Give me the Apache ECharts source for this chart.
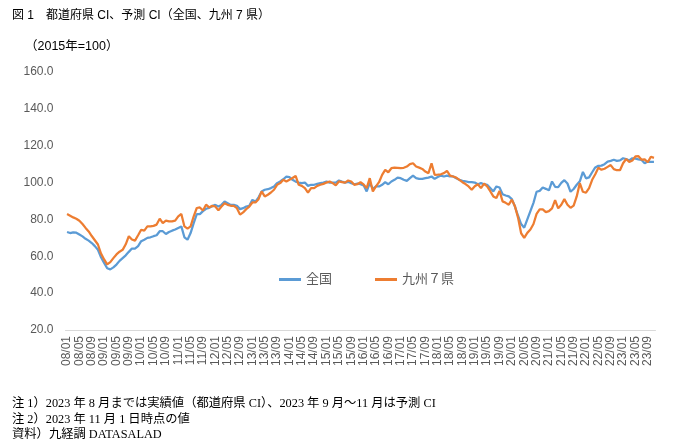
<!DOCTYPE html>
<html><head><meta charset="utf-8">
<script src="https://cdn.jsdelivr.net/npm/echarts@6/dist/echarts.min.js"></script>
<style>html,body{margin:0;padding:0;background:#fff}#c{width:680px;height:444px}</style>
</head><body><div id="c"></div>
<script>
// category labels: YY/MM from 2008/01 to 2023/11
var startYear = 2008, endYear = 2023, endMonth = 11;
var categories = [];
for (var y = startYear; y <= endYear; y++) {
  for (var m = 1; m <= 12; m++) {
    if (y === endYear && m > endMonth) break;
    categories.push(String(y % 100).padStart(2, '0') + '/' + String(m).padStart(2, '0'));
  }
}
var seriesNames = ['全国', '九州７県'];
// 全国
var zenkoku = [
  73.2, 72.6, 73.0, 72.8, 71.8, 70.8, 69.5, 68.5, 67.2, 65.5, 63.5, 59.5,
  56.4, 53.5, 52.9, 54.0, 55.5, 57.5, 59.0, 60.5, 62.4, 64.2, 64.2, 65.5,
  68.2, 69.0, 70.0, 70.3, 70.9, 71.4, 73.6, 73.6, 72.1, 73.2, 73.9, 74.5,
  75.4, 76.2, 70.3, 69.0, 72.6, 78.0, 82.9, 82.9, 84.5, 85.8, 86.3, 87.2,
  87.9, 87.0, 87.9, 89.7, 88.8, 87.9, 87.9, 87.4, 85.6, 86.1, 87.0, 87.4,
  90.6, 89.7, 92.0, 95.2, 96.1, 96.4, 97.0, 97.9, 99.7, 100.6, 101.8, 103.2,
  102.9, 101.5, 100.5, 100.0, 99.7, 100.0, 98.2, 98.8, 98.8, 99.3, 99.7, 100.0,
  100.6, 100.0, 100.0, 100.0, 101.1, 100.5, 100.0, 100.4, 99.7, 99.1, 99.5, 99.1,
  98.5, 95.2, 99.7, 96.6, 97.9, 97.9, 98.8, 100.2, 99.1, 100.6, 101.5, 102.7,
  102.4, 101.5, 100.9, 102.4, 103.8, 102.4, 102.0, 102.0, 102.4, 102.7, 103.3, 102.0,
  103.0, 103.8, 103.3, 103.8, 103.3, 103.3, 102.4, 101.5, 100.9, 100.7, 100.2, 100.2,
  100.0, 99.1, 99.7, 99.1, 98.8, 97.0, 95.2, 97.9, 97.3, 93.7, 93.0, 92.5,
  91.0, 87.0, 82.0, 77.5, 75.5, 80.0, 84.5, 89.0, 95.0, 95.5, 97.3, 96.6,
  95.8, 100.6, 97.7, 97.5, 99.8, 101.3, 99.5, 95.0, 96.5, 98.8, 100.7, 105.8,
  102.3, 102.8, 105.6, 108.2, 109.1, 109.2, 110.0, 111.4, 111.8, 112.4, 111.8, 112.0,
  113.2, 112.8, 112.0, 113.2, 113.0, 112.6, 112.3, 110.5, 111.4, 111.2, 111.2
];
// 九州７県
var kyushu = [
  82.9, 82.0, 81.1, 80.4, 79.3, 77.5, 75.4, 73.5, 71.0, 68.7, 66.4, 61.5,
  58.3, 55.6, 56.8, 59.0, 61.0, 62.5, 63.5, 66.5, 70.9, 69.1, 68.5, 71.4,
  74.4, 73.9, 76.2, 76.2, 76.5, 77.2, 80.4, 78.0, 79.3, 79.0, 79.0, 79.3,
  81.7, 83.0, 76.2, 75.0, 76.2, 81.7, 86.2, 86.5, 84.8, 88.0, 86.5, 87.4,
  87.0, 84.9, 87.0, 88.8, 87.9, 87.4, 87.4, 86.1, 82.6, 83.8, 85.6, 87.0,
  89.2, 89.2, 91.0, 95.2, 92.5, 93.4, 94.6, 96.1, 98.8, 99.7, 101.5, 100.6,
  101.5, 102.5, 103.6, 98.8, 98.2, 97.0, 94.6, 97.0, 97.0, 98.2, 98.8, 99.3,
  100.0, 100.6, 99.7, 98.5, 100.6, 100.3, 100.0, 101.1, 100.6, 98.8, 99.1, 100.2,
  99.0, 97.0, 102.4, 95.2, 97.9, 100.2, 104.2, 106.9, 105.6, 107.8, 108.1, 108.0,
  107.8, 108.0, 108.7, 110.0, 110.5, 108.7, 108.1, 107.4, 106.0, 105.1, 110.5, 104.2,
  104.3, 104.5, 105.1, 106.3, 103.8, 103.3, 102.7, 101.5, 100.2, 99.2, 97.9, 96.1,
  98.0, 99.1, 97.0, 99.4, 97.9, 95.3, 92.5, 91.6, 95.5, 89.8, 89.0, 88.0,
  90.7, 87.1, 81.0, 72.5, 70.0, 72.7, 74.5, 77.5, 83.0, 85.5, 85.5, 84.0,
  84.5, 86.0, 90.5, 86.0, 88.0, 91.0, 88.0, 86.3, 87.5, 92.5, 99.7, 95.0,
  94.5, 97.0, 101.5, 104.5, 108.0, 107.0, 107.5, 108.5, 109.5, 107.3, 106.7, 106.7,
  110.5, 112.8, 111.2, 112.0, 114.2, 114.3, 112.4, 112.6, 111.0, 114.0, 113.4
];
var titleText = '図 1　都道府県 CI、予測 CI（全国、九州 7 県）';
var unitText = '（2015年=100）';
var notes = [
  '注 1）2023 年 8 月までは実績値（都道府県 CI）、2023 年 9 月～11 月は予測 CI',
  '注 2）2023 年 11 月 1 日時点の値',
  '資料）九経調 DATASALAD'
];

var chart = echarts.init(document.getElementById('c'), null, {renderer: 'canvas'});
var sans = "'Liberation Sans', 'Noto Sans CJK JP', sans-serif";
var serif = "'Liberation Serif', 'Noto Sans CJK JP', serif";
chart.setOption({
  animation: false,
  backgroundColor: '#ffffff',
  grid: {left: 65.5, right: 24.5, top: 72, bottom: 114, containLabel: false},
  legend: {
    data: seriesNames,
    left: 274, top: 268,
    icon: 'rect', itemWidth: 22, itemHeight: 3, itemGap: 43,
    textStyle: {fontSize: 13, color: '#595959', fontFamily: sans}
  },
  xAxis: {
    type: 'category', data: categories, boundaryGap: true,
    axisLine: {lineStyle: {color: '#d9d9d9', width: 1}},
    axisTick: {show: false},
    axisLabel: {interval: 3, rotate: 90, fontSize: 12, color: '#595959', fontFamily: sans, margin: 6}
  },
  yAxis: {
    type: 'value', min: 20, max: 160, interval: 20,
    splitLine: {show: false},
    axisLine: {show: false}, axisTick: {show: false},
    axisLabel: {formatter: function (v) { return v.toFixed(1); }, fontSize: 12, color: '#595959', fontFamily: sans, margin: 12}
  },
  series: [
    {name: seriesNames[0], type: 'line', data: zenkoku, symbol: 'none', lineStyle: {color: '#5B9BD5', width: 2.25}, itemStyle: {color: '#5B9BD5'}},
    {name: seriesNames[1], type: 'line', data: kyushu, symbol: 'none', lineStyle: {color: '#ED7D31', width: 2.25}, itemStyle: {color: '#ED7D31'}}
  ],
  graphic: [
    {type: 'text', left: 12, top: 10, style: {text: titleText, fontSize: 12, fill: '#000', fontFamily: sans}},
    {type: 'text', left: 25, top: 40, style: {text: unitText, fontSize: 12.5, fill: '#000', fontFamily: sans}},
    {type: 'text', left: 12, top: 398, style: {text: notes[0], fontSize: 12.3, fill: '#000', fontFamily: serif}},
    {type: 'text', left: 12, top: 414, style: {text: notes[1], fontSize: 12.3, fill: '#000', fontFamily: serif}},
    {type: 'text', left: 12, top: 429, style: {text: notes[2], fontSize: 12.3, fill: '#000', fontFamily: serif}}
  ]
});
</script></body></html>
